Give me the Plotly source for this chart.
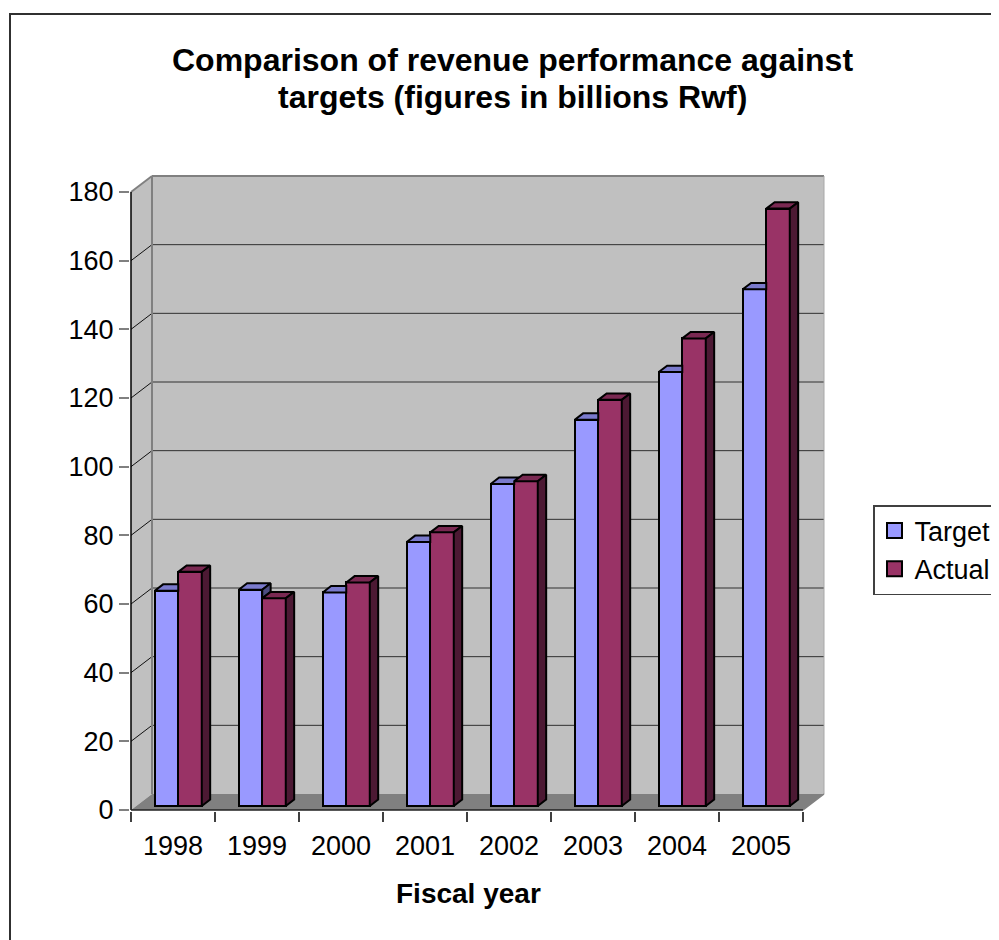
import plotly.graph_objects as go

# ---------------- data ----------------
years = ["1998", "1999", "2000", "2001", "2002", "2003", "2004", "2005"]
target = [62.7, 63.0, 62.2, 76.9, 93.8, 112.5, 126.4, 150.5]
actual = [68.2, 60.5, 65.1, 79.7, 94.6, 118.3, 136.2, 174.0]
y_ticks = [0, 20, 40, 60, 80, 100, 120, 140, 160, 180]
series_names = ["Target", "Actual"]

# ---------------- styling / geometry constants ----------------
FONT = "Liberation Sans, Arial, sans-serif"
C_TARGET, C_TARGET_TOP, C_TARGET_SIDE = "#9999FF", "#7A7ACC", "#4C4C80"
C_ACTUAL, C_ACTUAL_TOP, C_ACTUAL_SIDE = "#993366", "#7A2952", "#4C1933"
C_WALL, C_FLOOR, C_EDGE = "#C0C0C0", "#808080", "#808080"

OFF = 8                                   # page body margin
W_PX, H_PX = 999 - OFF, 940 - OFF
X_LEFT_PX, Y_ZERO_PX = 131 - OFF, 810 - OFF
CAT_PX = 84
Y_MAX = 180
UNIT_PX = 618 / Y_MAX
DEPTH_X_PX, DEPTH_Y_PX = 21, 16
PAD_L, PAD_B, PAD_R, PAD_T = 1, 1, 3, 3

DX = DEPTH_X_PX / CAT_PX
DY = DEPTH_Y_PX / UNIT_PX
FD, BD = 0.25, 0.65
BW = 0.28
N = len(years)

x_min = -0.5 - PAD_L / CAT_PX
x_max = N - 0.5 + (DEPTH_X_PX + PAD_R) / CAT_PX
y_min = -PAD_B / UNIT_PX
y_max = Y_MAX + (DEPTH_Y_PX + PAD_T) / UNIT_PX

m_l = X_LEFT_PX - PAD_L
m_r = W_PX - (X_LEFT_PX + N * CAT_PX + DEPTH_X_PX + PAD_R)
m_t = Y_ZERO_PX - Y_MAX * UNIT_PX - DEPTH_Y_PX - PAD_T
m_b = H_PX - (Y_ZERO_PX + PAD_B)
plot_w = W_PX - m_l - m_r
plot_h = H_PX - m_t - m_b


def px_to_paper_x(px):
    return (px - OFF - m_l) / plot_w


def px_to_paper_y(py):
    return (H_PX - m_b - (py - OFF)) / plot_h


def P(x, y, d):
    return (x + d * DX, y + d * DY)


def add_poly(store, pts):
    for (a, b) in pts + [pts[0]]:
        store[0].append(a)
        store[1].append(b)
    store[0].append(None)
    store[1].append(None)


t_top, t_side, a_top, a_side = ([], []), ([], []), ([], []), ([], [])
for i in range(N):
    T, A = target[i], actual[i]
    L, R = i - BW, i
    L2, R2 = i, i + BW
    if A > T:
        a_eff = min(A, T + (BD - FD) * DY)
        xs = R + FD * DX
        xstar = xs + (T + (BD - FD) * DY - a_eff) / DY * DX
        pts = [P(L, T, FD), (xs, T + FD * DY), (xs, a_eff + FD * DY),
               (xstar, T + BD * DY), P(L, T, BD)]
        add_poly(t_top, pts)
    else:
        add_poly(t_top, [P(L, T, FD), P(R, T, FD), P(R, T, BD), P(L, T, BD)])
        add_poly(t_side, [P(R, A, FD), P(R, T, FD), P(R, T, BD), P(R, A, BD)])
    add_poly(a_top, [P(L2, A, FD), P(R2, A, FD), P(R2, A, BD), P(L2, A, BD)])
    add_poly(a_side, [P(R2, 0, FD), P(R2, A, FD), P(R2, A, BD), P(R2, 0, BD)])

fig = go.Figure()

fig.add_trace(go.Bar(x=list(range(N)), y=target, base=[FD * DY] * N,
                     width=BW, offset=-BW + FD * DX, name=series_names[0],
                     marker=dict(color=C_TARGET, line=dict(color="black", width=2)),
                     showlegend=False, hovertemplate="%{y}<extra>Target</extra>"))
fig.add_trace(go.Bar(x=list(range(N)), y=actual, base=[FD * DY] * N,
                     width=BW, offset=FD * DX, name=series_names[1],
                     marker=dict(color=C_ACTUAL, line=dict(color="black", width=2)),
                     showlegend=False, hovertemplate="%{y}<extra>Actual</extra>"))

for store, col in [(t_top, C_TARGET_TOP), (t_side, C_TARGET_SIDE),
                   (a_top, C_ACTUAL_TOP), (a_side, C_ACTUAL_SIDE)]:
    if store[0]:
        fig.add_trace(go.Scatter(x=store[0], y=store[1], mode="lines", fill="toself",
                                 fillcolor=col, line=dict(color="black", width=2),
                                 hoverinfo="skip", showlegend=False))

for nm, col, grp in [(series_names[0], C_TARGET, "g1"), (series_names[1], C_ACTUAL, "g2")]:
    fig.add_trace(go.Scatter(x=[None], y=[None], mode="markers", name=nm, legendgroup=grp,
                             marker=dict(symbol="square", size=15, color=col,
                                         line=dict(color="black", width=2))))

fig.add_trace(go.Scatter(x=[None], y=[None], xaxis="x2", yaxis="y",
                         showlegend=False, hoverinfo="skip"))

shapes = []
xl, xr = -0.5, N - 0.5


def path(pts):
    return "M" + "L".join(f"{a},{b}" for a, b in pts) + "Z"


shapes.append(dict(type="path", xref="x", yref="y", layer="below",
                   path=path([(xl + DX, DY), (xr + DX, DY), (xr + DX, Y_MAX + DY), (xl + DX, Y_MAX + DY)]),
                   fillcolor=C_WALL, line=dict(width=0)))
shapes.append(dict(type="path", xref="x", yref="y", layer="below",
                   path=path([(xl, 0), (xl + DX, DY), (xl + DX, Y_MAX + DY), (xl, Y_MAX)]),
                   fillcolor=C_WALL, line=dict(width=0)))
shapes.append(dict(type="path", xref="x", yref="y", layer="below",
                   path=path([(xl, 0), (xr, 0), (xr + DX, DY), (xl + DX, DY)]),
                   fillcolor=C_FLOOR, line=dict(width=0)))
for v in y_ticks[1:-1]:
    shapes.append(dict(type="line", xref="x", yref="y", layer="below",
                       x0=xl + DX, y0=v + DY, x1=xr + DX, y1=v + DY,
                       line=dict(color="#303030", width=1)))
    shapes.append(dict(type="line", xref="x", yref="y", layer="below",
                       x0=xl, y0=v, x1=xl + DX, y1=v + DY,
                       line=dict(color="#101010", width=1)))
shapes.append(dict(type="line", xref="x", yref="y", layer="below",
                   x0=xl + DX, y0=DY, x1=xl + DX, y1=Y_MAX + DY, line=dict(color=C_EDGE, width=2)))
shapes.append(dict(type="line", xref="x", yref="y", layer="below",
                   x0=xl + DX, y0=Y_MAX + DY, x1=xr + DX, y1=Y_MAX + DY, line=dict(color=C_EDGE, width=2)))
shapes.append(dict(type="line", xref="x", yref="y", layer="below",
                   x0=xl, y0=Y_MAX, x1=xl + DX, y1=Y_MAX + DY, line=dict(color=C_EDGE, width=2)))
shapes.append(dict(type="line", xref="x", yref="y", layer="below",
                   x0=xr + DX, y0=DY, x1=xr + DX, y1=Y_MAX + DY, line=dict(color="#A8A8A8", width=1)))
shapes.append(dict(type="line", xref="x", yref="y", layer="below",
                   x0=xr, y0=0, x1=xr + DX, y1=DY, line=dict(color=C_EDGE, width=1.5)))
shapes.append(dict(type="line", xref="x", yref="y", layer="below",
                   x0=xl, y0=0, x1=xl, y1=Y_MAX, line=dict(color="black", width=1.5)))
shapes.append(dict(type="line", xref="x", yref="y", layer="below",
                   x0=xl, y0=0, x1=xr, y1=0, line=dict(color="#202020", width=1.5)))
shapes.append(dict(type="rect", xref="paper", yref="paper",
                   x0=px_to_paper_x(10), x1=px_to_paper_x(1100),
                   y0=px_to_paper_y(1100), y1=px_to_paper_y(14),
                   line=dict(color="#303030", width=2), fillcolor="rgba(0,0,0,0)"))

annotations = [
    dict(text="<b>Comparison of revenue performance against</b>", xref="paper", yref="paper",
         x=px_to_paper_x(512), y=px_to_paper_y(60), xanchor="center", yanchor="middle",
         showarrow=False, font=dict(family=FONT, size=32, color="black")),
    dict(text="<b>targets (figures in billions Rwf)</b>", xref="paper", yref="paper",
         x=px_to_paper_x(512), y=px_to_paper_y(97), xanchor="center", yanchor="middle",
         showarrow=False, font=dict(family=FONT, size=32, color="black")),
    dict(text="<b>Fiscal year</b>", xref="paper", yref="paper",
         x=px_to_paper_x(468), y=px_to_paper_y(893), xanchor="center", yanchor="middle",
         showarrow=False, font=dict(family=FONT, size=28, color="black")),
]

fig.update_layout(
    width=W_PX, height=H_PX,
    margin=dict(l=m_l, r=m_r, t=m_t, b=m_b, pad=0, autoexpand=False),
    paper_bgcolor="white", plot_bgcolor="white",
    barmode="overlay", bargap=0,
    font=dict(family=FONT, color="black"),
    shapes=shapes, annotations=annotations,
    showlegend=True,
    legend=dict(x=px_to_paper_x(873), y=px_to_paper_y(505), xanchor="left", yanchor="top",
                bordercolor="#404040", borderwidth=1.5, bgcolor="white",
                font=dict(family=FONT, size=27, color="black"),
                tracegroupgap=9, traceorder="normal", itemwidth=30),
    xaxis=dict(range=[x_min, x_max], tickvals=list(range(N)), ticktext=years,
               showgrid=False, zeroline=False, showline=False,
               ticks="outside", ticklen=11, tickcolor="rgba(0,0,0,0)",
               tickfont=dict(family=FONT, size=27, color="black"), fixedrange=True),
    xaxis2=dict(range=[x_min, x_max], overlaying="x", anchor="y", side="bottom",
                tickvals=[k - 0.5 for k in range(N + 1)], showticklabels=False,
                showgrid=False, zeroline=False, showline=False,
                ticks="outside", ticklen=10, tickwidth=1.5, tickcolor="#404040"),
    yaxis=dict(range=[y_min, y_max], tickvals=y_ticks, ticktext=[str(v) for v in y_ticks],
               showgrid=False, zeroline=False, showline=False,
               ticks="outside", ticklen=10, tickwidth=1.5, tickcolor="#808080",
               tickfont=dict(family=FONT, size=27, color="black"), fixedrange=True),
)

fig.write_html("out.html")
